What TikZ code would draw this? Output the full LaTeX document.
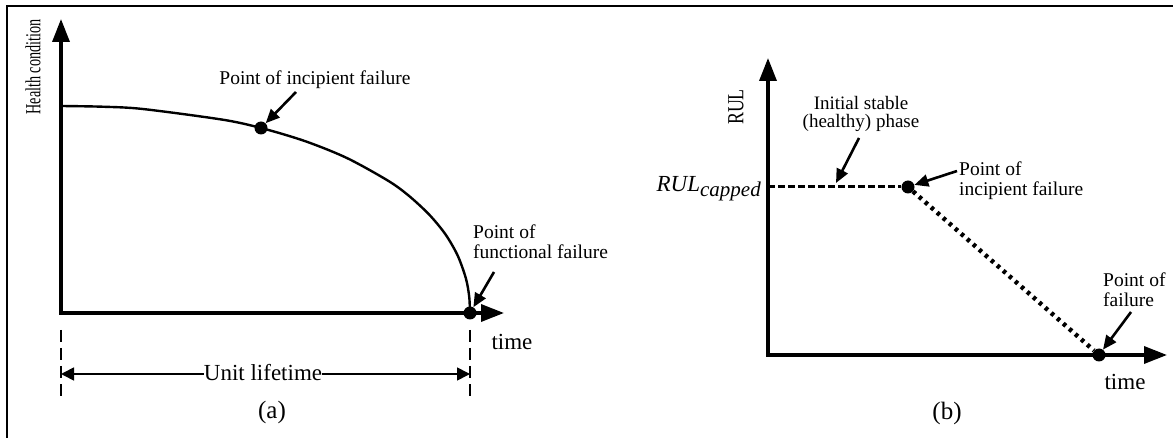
\documentclass[tikz,border=0pt]{standalone}
\usepackage{fontspec}
\setmainfont{Liberation Serif}
\newfontfamily\vfont[FakeStretch=0.66]{Liberation Serif}
\newfontfamily\rfont[FakeStretch=0.78]{Liberation Serif}
\usetikzlibrary{arrows.meta}
\begin{document}
\begin{tikzpicture}[x=1pt,y=-1pt,
  axis/.style={line width=3.5pt,line cap=rect,-{Triangle[length=23pt,width=17pt]}},
  ptr/.style={line width=2.6pt,-{Triangle[length=14pt,width=12pt]}},
  dotn/.style={circle,fill=black,inner sep=0pt,minimum size=13pt},
  lbl/.style={font=\fontsize{19.5}{20}\selectfont,inner sep=0pt,align=left},
  big/.style={font=\fontsize{23}{24}\selectfont,inner sep=0pt},
  dimline/.style={line width=1.7pt,{Triangle[length=13pt,width=13pt]}-{Triangle[length=13pt,width=13pt]}},
  tick/.style={line width=2pt,dash pattern=on 12pt off 6pt},
  capline/.style={line width=3pt,dash pattern=on 6.5pt off 3.5pt},
  dotline/.style={line width=4.5pt,dash pattern=on 3.5pt off 4.5pt},
]
\useasboundingbox (0,0) rectangle (1173,438);
% frame
\coordinate (fb) at (7,438); \coordinate (fc) at (7,6); \coordinate (fr) at (1173,6);
\draw[line width=2.2pt] (fb) -- (fc) -- (fr);

% ---------- panel (a)
\coordinate (Oa) at (61,313);
\coordinate (Ya) at (61,19);
\coordinate (Xa) at (504,313);
\draw[axis] (Oa) -- (Ya);
\draw[axis] (Oa) -- (Xa);
\draw[line width=2.4pt] plot[smooth,tension=0.5] coordinates {(61,106) (101.9,106.7) (142.8,109) (224.6,120) (265.5,129.2) (306.4,141.6) (347.3,158.2) (388.2,180.8) (408.65,195.6) (429.1,214.5) (445.5,234.4) (457.7,255.6) (465.9,278.4) (469.2,296.6) (470,313)};
\node[dotn] (ia) at (261,128) {};
\node[dotn] (fa) at (470,313) {};
\node[rotate=90,inner sep=0pt,font=\vfont\fontsize{21.5}{22}\selectfont] (hc) at (33,67) {Health condition};
\node[lbl] (tia) at (315,80) {Point of incipient failure};
\coordinate (tiaa) at (296,92);
\draw[ptr] (tiaa) -- (ia);
\node[lbl,anchor=west] (tfa) at (473,242) {Point of\\functional failure};
\coordinate (tfaa) at (494,272);
\draw[ptr] (tfaa) -- (fa);
\node[big] (tma) at (512,342) {time};
\coordinate (d1t) at (61,330); \coordinate (d1b) at (61,396);
\coordinate (d2t) at (470,330); \coordinate (d2b) at (470,396);
\draw[tick] (d1t) -- (d1b);
\draw[tick] (d2t) -- (d2b);
\coordinate (la) at (61,374); \coordinate (lb) at (470,374);
\draw[dimline] (la) -- (lb);
\node[big,fill=white,inner sep=0.3pt] (ul) at (263,373) {Unit lifetime};
\node[big,font=\fontsize{25}{26}\selectfont] (pa) at (272,412) {(a)};

% ---------- panel (b)
\coordinate (Ob) at (768,355);
\coordinate (Yb) at (768,58);
\coordinate (Xb) at (1167,355);
\draw[axis] (Ob) -- (Yb);
\draw[axis] (Ob) -- (Xb);
\node[rotate=90,inner sep=0pt,font=\rfont\fontsize{23}{24}\selectfont] (rul) at (736,107) {RUL};
\node[big,anchor=east] (rc) at (761,189) {\textit{RUL}\raisebox{-5pt}{\fontsize{21}{21}\selectfont\textit{capped}}};
\coordinate (cs) at (768,187);
\node[dotn] (ib) at (908,187) {};
\node[dotn] (fbd) at (1099,355) {};
\draw[capline] (cs) -- (ib);
\draw[dotline] (ib) -- (fbd);
\node[lbl,align=center,font=\fontsize{19}{18.5}\selectfont] (isp) at (861,114) {Initial stable\\(healthy) phase};
\coordinate (ispa) at (859,138);
\coordinate (ispb) at (836,183);
\draw[ptr] (ispa) -- (ispb);
\node[lbl,anchor=west] (tib) at (959,181) {Point of\\incipient failure};
\coordinate (tiba) at (957,171);
\draw[ptr] (tiba) -- (ib);
\node[lbl,anchor=west] (tfb) at (1103,290) {Point of\\failure};
\coordinate (tfba) at (1131,312);
\draw[ptr] (tfba) -- (fbd);
\node[big] (tmb) at (1125,382) {time};
\node[big,font=\fontsize{25}{26}\selectfont] (pb) at (947,413) {(b)};
\end{tikzpicture}
\end{document}
